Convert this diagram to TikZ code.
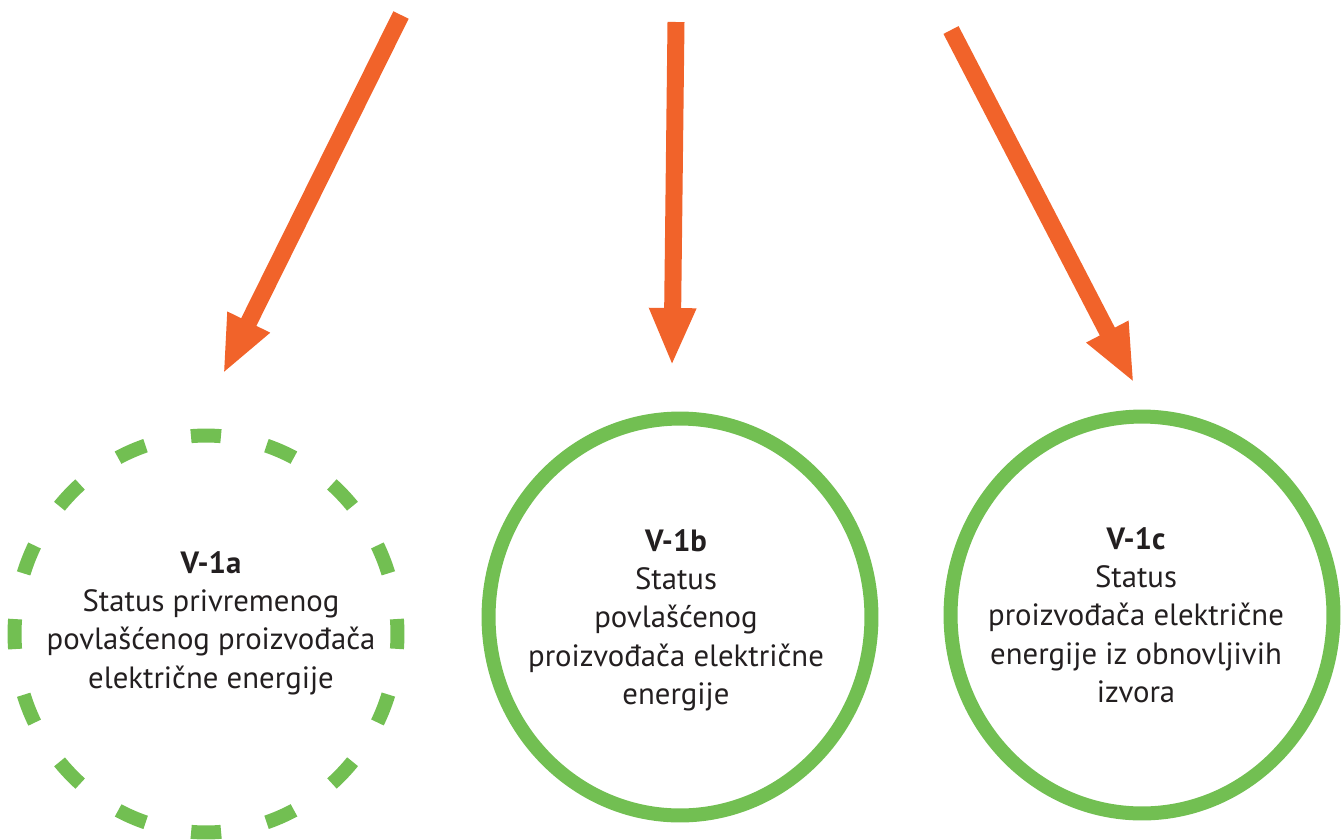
\documentclass[tikz,border=0pt]{standalone}
\usepackage{fontspec}
\setmainfont{PT Sans}
\usetikzlibrary{arrows.meta,shapes.geometric}
\definecolor{stOrange}{RGB}{241,99,42}
\definecolor{stGreen}{RGB}{114,191,82}
\definecolor{stText}{RGB}{35,31,32}
\tikzset{
    ring/.style={ellipse, draw=stGreen, line width=0.28cm, minimum width=7.66cm,
                 minimum height=7.94cm, inner sep=0pt},
    dashring/.style={ring, dash pattern=on 0.6cm off 0.932cm, dash phase=0.3cm},
    caption/.style={font=\fontsize{17.5}{21.8}\selectfont, align=center, text=stText, inner sep=0pt},
    flow/.style={-{Triangle[width=0.86cm,length=1.16cm]}, line width=0.34cm, color=stOrange}
}

\begin{document}
\begin{tikzpicture}[x=0.02cm,y=-0.02cm]
  \useasboundingbox (0,0) rectangle (1342,839);

  % Status rings
  \node[dashring] (v1a) at (206,634) {};
  \node[ring] (v1b) at (680,617) {};
  \node[ring] (v1c) at (1142,615) {};

  % Ring texts
  \node[caption] (v1a-txt) at (211,623) {\textbf{V-1a}\\Status privremenog\\povlašćenog proizvođača\\električne energije};
  \node[caption] (v1b-txt) at (676,620) {\textbf{V-1b}\\Status\\povlašćenog\\proizvođača električne\\energije};
  \node[caption] (v1c-txt) at (1136,615) {\textbf{V-1c}\\Status\\proizvođača električne\\energije iz obnovljivih\\izvora};

  % Arrows from above
  \coordinate (a1s) at (401,15);
  \coordinate (a1e) at (223,374);
  \coordinate (a2s) at (676,22);
  \coordinate (a2e) at (672,366);
  \coordinate (a3s) at (951,30);
  \coordinate (a3e) at (1134,383);
  \draw[flow] (a1s) -- (a1e);
  \draw[flow] (a2s) -- (a2e);
  \draw[flow] (a3s) -- (a3e);
\end{tikzpicture}
\end{document}
